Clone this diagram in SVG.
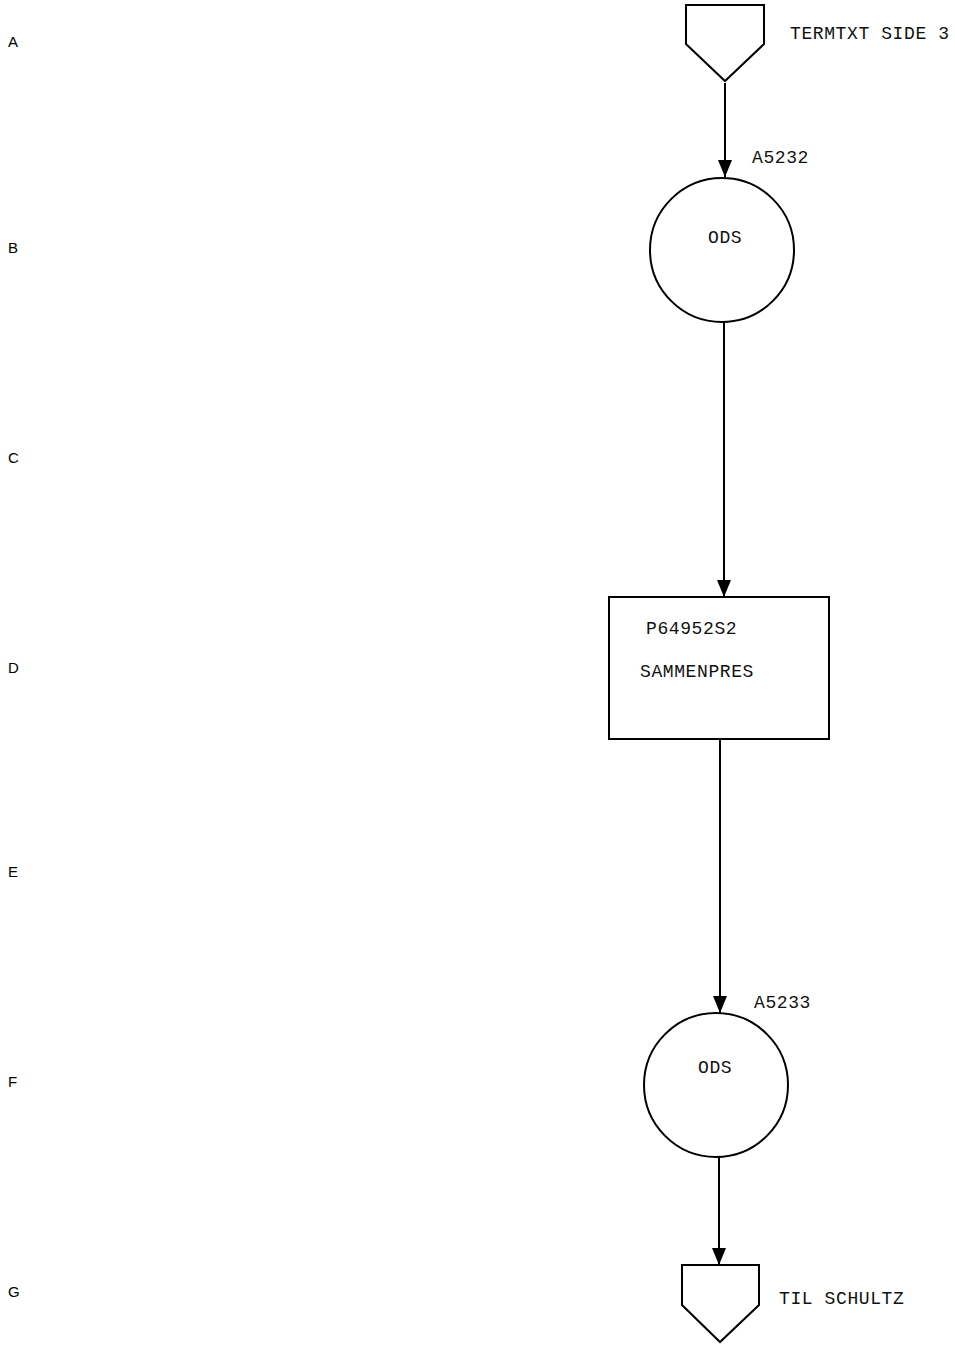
<svg xmlns="http://www.w3.org/2000/svg" width="955" height="1345" viewBox="0 0 955 1345">
<defs>
<style>
.shape{fill:#fff;stroke:#000;stroke-width:2}
.lbl{font-family:"Liberation Mono",monospace;font-size:18px;letter-spacing:0.6px;fill:#111}
.row{font-family:"Liberation Sans",sans-serif;font-size:15px;fill:#000}
.edge{stroke:#000;stroke-width:2;fill:none}
</style>
<marker id="arr" markerWidth="17" markerHeight="14" refX="17" refY="7" orient="auto" markerUnits="userSpaceOnUse" viewBox="0 0 17 14">
<path d="M0,0 L17,7 L0,14 Z" fill="#000"/>
</marker>
</defs>
<rect width="955" height="1345" fill="#fff"/>
<g id="rows">
<text class="row" x="8" y="47">A</text>
<text class="row" x="8" y="253">B</text>
<text class="row" x="8" y="463">C</text>
<text class="row" x="8" y="673">D</text>
<text class="row" x="8" y="877">E</text>
<text class="row" x="8" y="1087">F</text>
<text class="row" x="8" y="1297">G</text>
</g>
<g id="connectors">
<line class="edge" x1="725" y1="83" x2="725" y2="177" marker-end="url(#arr)"/>
<line class="edge" x1="724" y1="322" x2="724" y2="597" marker-end="url(#arr)"/>
<line class="edge" x1="720" y1="739" x2="720" y2="1013" marker-end="url(#arr)"/>
<line class="edge" x1="719" y1="1157" x2="719" y2="1265" marker-end="url(#arr)"/>
</g>
<g id="start">
<polygon class="shape" points="686,5 764,5 764,44 725,81 686,44"/>
<text class="lbl" x="790" y="39">TERMTXT SIDE 3</text>
</g>
<g id="ods1">
<circle class="shape" cx="722" cy="250" r="72"/>
<text class="lbl" x="708" y="243">ODS</text>
<text class="lbl" x="752" y="163">A5232</text>
</g>
<g id="proc">
<rect class="shape" x="609" y="597" width="220" height="142"/>
<text class="lbl" x="646" y="634">P64952S2</text>
<text class="lbl" x="640" y="677">SAMMENPRES</text>
</g>
<g id="ods2">
<circle class="shape" cx="716" cy="1085" r="72"/>
<text class="lbl" x="698" y="1073">ODS</text>
<text class="lbl" x="754" y="1008">A5233</text>
</g>
<g id="end">
<polygon class="shape" points="682,1265 759,1265 759,1305 720,1342 682,1305"/>
<text class="lbl" x="779" y="1304">TIL SCHULTZ</text>
</g>
</svg>
